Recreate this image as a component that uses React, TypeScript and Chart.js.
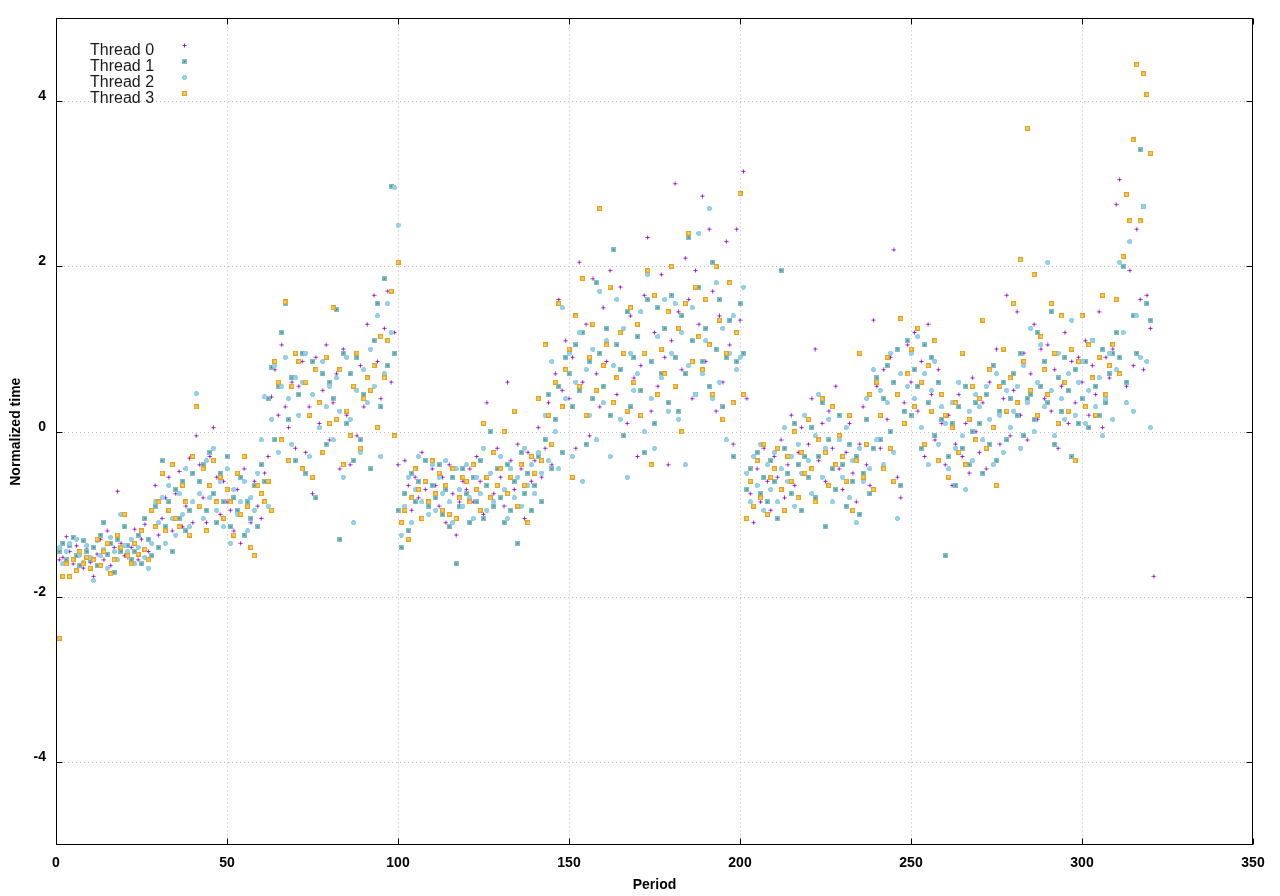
import React, { useEffect, useRef } from "react";
import { Chart, registerables } from "chart.js";
Chart.register(...registerables);

const threadLabels = ["Thread 0", "Thread 1", "Thread 2", "Thread 3"];
const firstPeriod = 1;
const xTicks = [0, 50, 100, 150, 200, 250, 300, 350];
const yTicks = [-4, -2, 0, 2, 4];

const thread0 = [
  -1.55, -1.52, -1.27, -1.45, -1.60, -1.38, -1.50, -1.65, -1.42, -1.58,
  -1.75, -1.48, -1.30, -1.55, -1.20, -1.62, -1.40, -0.72, -1.35, -1.50,
  -1.52, -1.40, -1.18, -1.55, -1.30, -1.12, -1.45, -0.95, -0.65, -1.25,
  -1.05, -0.80, -0.55, -1.20, -0.75, -0.48, -1.15, -0.90, -0.32, -1.10,
  -0.05, -0.40, -0.80, -1.10, -0.30, 0.05, -0.55, -1.00, -0.60, -0.85,
  -0.95, -1.20, -0.70, -1.35, -0.45, -0.85, -1.10, -0.60, -0.90, -1.05,
  -0.50, -0.30, 0.42, 0.75, 0.20, 1.05, 0.30, 0.05, 0.60, -0.20,
  0.55, 0.85, -0.25, 0.30, -0.75, 0.90, 0.10, 0.50, 1.05, -0.10,
  0.35, 0.70, -0.45, 1.00, 0.20, -0.40, 0.55, -0.05, 0.80, 0.30,
  1.30, 0.50, 1.65, 0.85, 0.40, 1.25, 1.70, 0.60, 1.20, -0.40,
  -1.10, -0.35, -0.65, -0.95, -0.55, -0.80, -0.25, -0.70, -1.00, -0.45,
  -0.65, -0.90, -0.55, -1.10, -0.40, -0.75, -1.25, -0.85, -0.60,
  -0.70, -0.45, -0.85, -0.30, -0.60, -1.00, 0.35, -0.50, -0.75, -0.20,
  -0.55, -0.90, 0.60, -0.35, -0.70, -0.15, -0.45, -1.05, -0.25, -0.60,
  -0.35, 0.05, -0.55, -0.20, 0.35, -0.40, 0.70, 1.60, 0.50, 1.10,
  0.40, 0.90, -0.20, 2.05, 0.60, 1.30, -0.05, 1.85, 0.70, 0.30,
  1.50, 0.85, 1.95, 2.20, 0.45, 1.75, 0.95, 0.10, 1.40, 0.65,
  -0.30, 0.80, 1.65, 2.35, 0.25, 1.20, 0.55, 1.90, 0.90, -0.40,
  1.10, 3.00, 1.45, 0.75, 2.10, 1.60, 0.40, 1.95, 1.30, 2.85,
  0.85, 2.45, 1.70, 0.25, 1.40, 0.60, 2.30, 1.05, -0.15, 2.45,
  1.35, 3.15, 0.40, -0.75, -1.10, -0.45, -0.85, -0.20, -0.60, -0.95,
  -0.30, -0.55, -0.10, -0.80, -0.40, 0.20, -0.65, -0.25, 0.05, -0.50,
  -0.15, 0.40, 1.00, -0.35, 0.10, -0.60, 0.25, -0.20, 0.55, -0.45,
  -0.70, -0.25, 0.10, -0.50, -0.85, -0.15, 0.30, -0.40, -0.65, 1.35,
  0.55, -0.20, 0.75, 0.15, 0.90, 2.20, -0.55, -0.80, 0.35, 1.05,
  0.60, 1.20, 0.25, 0.85, -0.30, 1.30, 0.45, -0.10, 0.75, 0.10,
  -0.40, 0.20, -0.65, -0.15, 0.45, -0.30, 0.10, -0.50, 0.65, 0.00,
  -0.25, 0.35, -0.45, 0.60, 0.05, 1.00, -0.15, 0.40, 1.65, -0.05,
  0.50, 1.45, 0.20, 0.95, -0.10, 0.70, 1.30, 0.15, 1.00, 0.40,
  1.05, 0.25, 0.75, -0.20, 0.55, 1.20, 0.10, 0.85, 0.35, 0.90,
  0.60, 1.10, 0.20, 0.80, 0.45, 1.45, 0.05, 0.90, 0.65, 1.00,
  2.75, 3.05, 1.20, 0.55, 1.95, 0.80, 2.45, 1.60, 0.75, 1.65, 1.25, -1.75,
];

const thread1 = [
  -1.45, -1.35, -1.55, -1.38, -1.28, -1.50, -1.62, -1.32, -1.45, -1.55,
  -1.40, -1.62, -1.25, -1.10, -1.48, -1.35, -1.70, -1.30, -1.45, -1.15,
  -1.38, -1.55, -1.45, -1.25, -1.60, -1.05, -1.30, -1.50, -0.90, -1.40,
  -0.35, -1.15, -0.85, -1.45, -0.70, -1.05, -0.60, -1.20, -0.95, -0.50,
  0.30, -0.60, -0.40, -0.95, -0.25, -0.75, -1.10, -0.50, -0.85, -0.30,
  -1.15, -0.80, -0.95, -0.55, -1.25, -0.85, -1.05, -0.65, -1.15, -0.40,
  -0.60, 0.40, 0.78, -0.10, 0.55, 1.20, 1.55, 0.15, 0.65, -0.35,
  0.45, 0.95, -0.50, 0.20, 0.85, -0.80, 0.35, 0.70, -0.15, 0.60,
  0.40, 1.48, -1.30, 0.95, 0.10, 0.70, -0.35, 0.90, -0.10, 0.45,
  0.65, -0.45, 1.10, 1.55, 0.30, 1.85, 0.80, 2.97, 0.95, -0.95,
  -1.40, -0.75, -1.20, -0.50, -0.85, -0.60, -1.05, -0.35, -0.90, -0.65,
  -0.80, -0.40, -1.00, -0.70, -1.15, -0.55, -1.60, -0.90, -0.45,
  -0.75, -1.10, -0.55, -0.85, -0.35, -1.05, -0.65, 0.00, -0.90, -0.45,
  -0.80, -1.10, -0.40, -0.95, -0.60, -1.35, -0.25, -0.75, -0.50, -0.95,
  -0.65, -0.30, -0.85, -0.10, 0.45, -0.45, 0.15, 0.55, -0.25, 0.90,
  0.70, 0.30, 1.05, 0.50, 1.20, -0.15, 0.85, 0.40, 1.80, 0.95,
  0.55, 1.25, 0.20, 2.20, 1.05, 0.75, -0.05, 1.45, 0.30, 0.90,
  1.15, 0.50, -0.25, 1.60, 0.85, 0.10, 1.50, 0.70, 1.25, 0.35,
  1.65, 0.90, 0.25, 1.40, 0.70, 2.35, 1.10, 0.45, 1.75, 0.85,
  1.25, 0.55, 2.05, 1.00, 1.60, 0.30, 0.90, 1.35, -0.30, 0.85,
  1.55, 0.95, -0.70, -0.45, -0.90, -0.25, -0.75, -0.55, -0.85, -0.35,
  -0.60, -1.05, 1.95, -0.20, -0.50, -0.75, 0.10, -0.40, -0.95, -0.30,
  -0.55, 0.05, -0.80, -0.30, 0.35, -1.15, -0.10, -0.45, -0.70, 0.20,
  -0.40, -0.90, -0.15, -0.60, -0.30, -1.00, -0.50, 0.15, -0.75, -0.20,
  0.65, -0.10, 0.40, 0.80, 0.00, 0.60, 1.00, -0.65, 0.25, 1.10,
  0.20, 0.75, 0.55, -0.20, 1.05, 0.35, 0.90, -0.05, 0.60, 0.15,
  -1.50, -0.30, 0.10, -0.65, 0.30, -0.20, 0.55, -0.40, 0.00, 0.35,
  0.10, -0.50, 0.45, -0.15, 0.80, -0.35, 0.25, 0.60, -0.10, 0.40,
  0.70, 0.20, 0.95, -0.05, 0.40, 0.45, 0.15, 1.20, 0.55, 0.85,
  0.35, 1.45, -0.15, 0.65, 0.25, 0.90, 0.50, -0.30, 0.75, 0.10,
  0.40, 0.85, 0.05, 1.10, 0.55, 0.20, 1.00, 0.35, 0.70, 0.95,
  1.20, 0.90, 2.00, 0.60, 2.55, 1.40, 0.95, 3.41, 2.72, 1.55, 1.35,
];

const thread2 = [
  -1.40, -1.60, -1.45, -1.35, -1.55, -1.30, -1.48, -1.58, -1.38, -1.52,
  -1.80, -1.32, -1.50, -1.42, -1.65, -1.28, -1.45, -1.55, -1.00, -1.38,
  -1.45, -1.30, -1.60, -1.40, -1.20, -1.52, -1.65, -1.35, -0.85, -1.10,
  -0.80, -1.35, -0.65, -1.05, -1.25, -0.75, -1.00, -0.45, -1.15, -0.85,
  0.46, -0.75, -1.05, -0.35, -0.80, -0.20, -0.95, -0.60, -1.15, -0.45,
  -1.35, -0.70, -1.00, -0.85, -0.60, -1.20, -0.80, -0.95, -0.50, -0.10,
  0.42, -0.90, 0.15, 0.80, -0.25, 0.55, 0.90, 0.40, -0.15, 0.65,
  0.20, 0.60, 0.95, -0.30, 0.45, 0.75, 0.05, 0.85, 0.30, 0.55,
  -0.10, 0.65, 0.25, -0.55, 0.90, 0.15, -1.10, 0.50, -0.25, 0.75,
  0.35, 1.00, 0.55, 1.40, -0.30, 0.70, 1.55, 1.20, 2.95, 2.50,
  -1.25, -0.90, -0.55, -1.10, -0.70, -0.30, -0.85, -0.60, -1.00, -0.40,
  -0.95, -0.55, -0.75, -0.35, -0.85, -1.10, -0.45, -0.70, -0.90,
  -0.40, -0.80, -1.05, -0.55, -0.75, -0.20, -0.95, -0.50, -0.85, -0.65,
  -0.30, -0.70, -1.05, -0.45, -0.80, -0.55, -0.90, -0.20, -0.65, -0.40,
  -0.75, -0.25, -0.50, 0.20, -0.35, 0.85, 0.00, -0.45, 1.50, 0.40,
  0.95, -0.30, 0.60, 1.20, -0.60, 0.75, 0.20, 1.00, -0.10, 1.70,
  0.35, 1.10, -0.30, 0.80, 1.60, 0.15, 1.25, -0.55, 0.95, 0.50,
  0.70, 1.45, 0.00, 1.90, 0.40, -0.20, 1.15, 0.65, 1.60, 0.25,
  0.95, 1.55, 0.15, 1.20, -0.40, 0.80, 1.50, 0.45, 2.40, 0.70,
  1.10, 2.70, 0.40, 1.80, 0.60, 1.25, -0.10, 0.95, 1.40, 0.75,
  0.90, 1.75, -0.50, -0.85, -0.30, -0.65, -0.15, -0.95, -0.40, -0.70,
  -0.25, -0.85, -0.45, 0.05, -0.60, -0.30, -0.90, -0.15, -0.50, 0.20,
  -0.35, -0.75, -0.05, 0.45, -0.55, -0.20, 0.15, -0.85, -0.40, -0.10,
  -0.55, 0.05, -0.80, -0.35, -1.10, -0.20, -0.60, 0.40, -0.45, 0.75,
  -0.10, 0.50, -0.40, 0.35, 0.95, -0.25, -1.05, 0.70, 0.10, 0.55,
  0.95, 0.40, 1.15, 0.05, 0.70, -0.40, 0.50, 0.85, -0.15, 0.30,
  0.10, -0.45, 0.35, -0.20, 0.60, -0.05, -0.70, 0.25, -0.35, 0.45,
  0.30, -0.10, 0.55, 0.15, -0.40, 0.70, 0.20, -0.25, 0.50, 0.05,
  0.25, 0.55, -0.20, 0.80, 0.35, 1.25, 0.00, 0.60, 1.05, 0.30,
  2.05, 0.50, -0.05, 0.95, 0.40, 0.15, 0.70, 1.35, 0.20, 0.60,
  0.85, 0.10, 0.50, 1.10, 0.30, 0.65, -0.05, 0.40, 0.95, 0.15,
  0.75, 2.05, 1.20, 0.35, 2.30, 0.25, 1.40, 0.90, 2.72, 0.85, 0.05,
];

const thread3 = [
  -2.50, -1.75, -1.60, -1.75, -1.55, -1.68, -1.45, -1.60, -1.52, -1.65,
  -1.55, -1.30, -1.62, -1.45, -1.35, -1.72, -1.55, -1.25, -1.40, -1.00,
  -1.50, -1.60, -1.35, -1.48, -1.20, -1.42, -1.55, -0.95, -1.15, -0.85,
  -0.50, -1.20, -0.95, -0.40, -1.05, -1.15, -0.65, -0.85, -1.25, -0.30,
  0.30, -0.90, -0.45, -1.20, -0.65, -0.35, -0.85, -0.55, -1.05, -0.70,
  -0.85, -1.25, -0.50, -1.00, -0.30, -0.90, -1.40, -1.50, -0.65, -0.75,
  -0.85, -0.60, -0.95, 0.85, 0.60, -0.10, 1.57, -0.35, 0.55, 0.95,
  0.85, -0.45, 0.60, 0.20, -0.55, 0.75, 0.35, -0.25, 0.90, 0.10,
  1.50, 0.15, 0.75, -0.40, 0.25, -0.05, 0.55, 0.95, -0.20, 0.40,
  0.65, 0.50, 0.80, 0.05, 1.15, 0.65, 1.10, 1.70, -0.05, 2.05,
  -1.10, -0.95, -1.30, -0.80, -0.45, -0.70, -1.05, -0.60, -0.85, -0.35,
  -0.75, -0.50, -0.95, -0.65, -1.00, -0.45, -1.05, -0.80, -0.55,
  -0.60, -0.85, -0.40, -0.70, -0.95, 0.10, -0.55, -0.80, -0.25, -0.65,
  -0.45, 0.00, -0.75, -0.55, 0.25, -0.90, -0.40, -0.65, -1.10, -0.30,
  -0.50, 0.40, -0.35, 1.05, 0.20, -0.15, 0.60, 1.55, 0.30, 0.75,
  1.00, -0.55, 1.40, 0.55, 1.85, 0.20, 0.90, 1.30, 0.50, 2.70,
  0.80, 1.05, 1.75, 0.35, 0.65, 1.20, 0.95, 0.25, 1.50, 0.60,
  1.30, 0.20, 0.95, 1.95, -0.40, 1.65, 0.45, 1.00, 0.70, 1.45,
  2.00, 0.55, 1.25, 0.00, 1.55, 2.40, 0.85, 1.75, 1.15, 0.75,
  1.60, 1.05, 0.45, 2.00, 1.35, 0.15, 0.95, 1.80, 0.35, 1.20,
  2.88, 0.45, -1.05, -0.60, -0.90, -0.35, -0.80, -0.15, -1.00, -0.55,
  -0.45, -0.20, -0.70, -0.95, -0.30, -0.60, 0.00, -0.80, -0.25, -0.50,
  0.15, -0.45, -0.85, -0.10, 0.40, -0.25, -0.65, 0.30, -0.40, -0.05,
  -0.30, -0.60, 0.20, -0.95, -0.35, 0.95, -0.55, -0.15, 0.45, -0.70,
  0.60, 0.20, -0.45, 0.90, -0.20, -0.60, 0.45, 1.37, 0.10, 0.70,
  1.00, 0.30, 1.25, 0.60, -0.15, 0.80, 0.25, 1.10, -0.35, 0.45,
  0.20, -0.55, 0.05, 0.35, -0.25, 0.95, -0.40, 0.15, 0.55, -0.10,
  0.40, 1.35, -0.20, 0.75, 0.05, -0.65, 0.55, 1.00, 0.25, 0.65,
  1.55, 0.35, 2.08, 0.85, 3.67, 0.50, 1.90, 0.20, 1.15, 0.75,
  0.45, 1.55, 0.95, 0.10, 1.40, 0.60, 0.25, 1.00, -0.35, 0.85,
  1.40, 0.30, 1.05, 0.65, 0.20, 0.90, 1.65, 0.45, 0.80, 1.05,
  1.60, 0.70, 2.12, 2.87, 2.55, 3.53, 4.44, 2.55, 4.33, 4.08, 3.37,
];

const threads = [thread0, thread1, thread2, thread3];

type Px = string | null;
function makeMarker(grid: Px[][]): HTMLCanvasElement {
  const c = document.createElement("canvas");
  c.width = grid[0].length;
  c.height = grid.length;
  const ctx = c.getContext("2d")!;
  grid.forEach((row, y) =>
    row.forEach((col, x) => {
      if (col) {
        ctx.fillStyle = col;
        ctx.fillRect(x, y, 1, 1);
      }
    })
  );
  return c;
}

function buildMarkers(): HTMLCanvasElement[] {
  const _ = null;
  const pa = "rgba(148,0,211,0.45)";
  const pb = "rgba(148,0,211,0.85)";
  const pc = "#7d00c4";
  const purple = makeMarker([
    [_, _, pa, _, _],
    [_, _, pb, _, _],
    [pa, pb, pc, pb, pa],
    [_, _, pb, _, _],
    [_, _, pa, _, _],
  ]);
  const ta = "#80c0c6";
  const tb = "#6fb2b9";
  const tc = "#2d7a7f";
  const teal = makeMarker([
    [ta, ta, ta, ta, ta],
    [ta, tb, tb, tb, ta],
    [ta, tb, tc, tb, ta],
    [ta, tb, tb, tb, ta],
    [ta, ta, ta, ta, ta],
  ]);
  const ca = "#92cfe6";
  const cb = "#a9daee";
  const cyan = makeMarker([
    [_, ca, ca, ca, _],
    [ca, ca, ca, ca, ca],
    [ca, ca, cb, ca, ca],
    [ca, ca, ca, ca, ca],
    [_, ca, ca, ca, _],
  ]);
  const oa = "#e8a21a";
  const ob = "#f0c259";
  const oc = "#f7dfa6";
  const orange = makeMarker([
    [oa, oa, oa, oa, oa],
    [oa, ob, ob, ob, oa],
    [oa, ob, oc, ob, oa],
    [oa, ob, ob, ob, oa],
    [oa, oa, oa, oa, oa],
  ]);
  return [purple, teal, cyan, orange];
}

export default function App() {
  const canvasRef = useRef<HTMLCanvasElement | null>(null);

  useEffect(() => {
    const canvas = canvasRef.current;
    if (!canvas) return;
    const markers = buildMarkers();
    const FONT = '"Liberation Sans", Arial, sans-serif';

    const framePlugin = {
      id: "gnuframe",
      beforeDatasetsDraw(chart: any) {
        const { ctx, chartArea } = chart;
        const xs = chart.scales.x;
        const ys = chart.scales.y;
        ctx.save();
        ctx.strokeStyle = "#bdbdbd";
        ctx.lineWidth = 1;
        ctx.setLineDash([1, 3]);
        xTicks.forEach((v) => {
          const px = Math.round(xs.getPixelForValue(v)) + 0.5;
          if (px <= chartArea.left + 1 || px >= chartArea.right - 1) return;
          ctx.beginPath();
          ctx.moveTo(px, chartArea.top);
          ctx.lineTo(px, chartArea.bottom);
          ctx.stroke();
        });
        yTicks.forEach((v) => {
          const py = Math.round(ys.getPixelForValue(v)) + 0.5;
          ctx.beginPath();
          ctx.moveTo(chartArea.left, py);
          ctx.lineTo(chartArea.right, py);
          ctx.stroke();
        });
        ctx.restore();
      },
      afterDatasetsDraw(chart: any) {
        const { ctx, chartArea } = chart;
        const xs = chart.scales.x;
        const ys = chart.scales.y;
        const l = Math.round(chartArea.left) + 0.5;
        const r = Math.round(chartArea.right) - 0.5;
        const t = Math.round(chartArea.top) + 0.5;
        const b = Math.round(chartArea.bottom) - 0.5;
        const tl = 6;
        ctx.save();
        ctx.strokeStyle = "#000";
        ctx.lineWidth = 1;
        ctx.setLineDash([]);
        ctx.strokeRect(l, t, r - l, b - t);
        ctx.beginPath();
        xTicks.forEach((v) => {
          const px = Math.round(xs.getPixelForValue(v)) + 0.5;
          ctx.moveTo(px, b);
          ctx.lineTo(px, b - tl);
          ctx.moveTo(px, t);
          ctx.lineTo(px, t + tl);
        });
        yTicks.forEach((v) => {
          const py = Math.round(ys.getPixelForValue(v)) + 0.5;
          ctx.moveTo(l, py);
          ctx.lineTo(l + tl, py);
          ctx.moveTo(r, py);
          ctx.lineTo(r - tl, py);
        });
        ctx.stroke();

        // legend
        ctx.font = `16px ${FONT}`;
        ctx.fillStyle = "#1a1a1a";
        ctx.textAlign = "left";
        ctx.textBaseline = "alphabetic";
        threadLabels.forEach((label, i) => {
          const base = 55 + i * 15.9;
          ctx.fillText(label, 90, base);
          ctx.drawImage(markers[i], 182, Math.round(base - 11.8));
        });
        ctx.restore();
      },
    };

    const datasets = threads.map((vals, i) => ({
      label: threadLabels[i],
      data: vals.map((v, k) => ({ x: firstPeriod + k, y: v })),
      pointStyle: markers[i] as any,
      pointRadius: 3,
      pointHoverRadius: 3,
      showLine: false,
      order: 3 - i,
    }));

    const chart = new Chart(canvas, {
      type: "scatter",
      data: { datasets },
      plugins: [framePlugin],
      options: {
        responsive: false,
        animation: false,
        devicePixelRatio: 1,
        events: [],
        layout: { padding: { left: 0, top: 15, right: 27, bottom: 0 } },
        plugins: {
          legend: { display: false },
          tooltip: { enabled: false },
        },
        scales: {
          x: {
            type: "linear",
            min: 0,
            max: 350,
            afterFit: (s: any) => {
              s.height = 51;
            },
            afterBuildTicks: (s: any) => {
              s.ticks = xTicks.map((v) => ({ value: v }));
            },
            grid: { display: false, drawTicks: false },
            border: { display: false },
            ticks: {
              padding: 10,
              color: "#000",
              font: { family: FONT, size: 14, weight: "bold" },
              maxRotation: 0,
              autoSkip: false,
            },
            title: {
              display: true,
              text: "Period",
              color: "#000",
              font: { family: FONT, size: 14, weight: "bold" },
              padding: { top: 0, bottom: 2 },
            },
          },
          y: {
            type: "linear",
            min: -5,
            max: 5,
            afterFit: (s: any) => {
              s.width = 56;
            },
            afterBuildTicks: (s: any) => {
              s.ticks = yTicks.map((v) => ({ value: v }));
            },
            grid: { display: false, drawTicks: false },
            border: { display: false },
            ticks: {
              padding: 10,
              labelOffset: -5,
              color: "#000",
              font: { family: FONT, size: 14, weight: "bold" },
              autoSkip: false,
            },
            title: {
              display: true,
              text: "Normalized time",
              color: "#000",
              font: { family: FONT, size: 14, weight: "bold" },
              padding: { top: 8, bottom: 0 },
            },
          },
        },
      },
    });
    return () => chart.destroy();
  }, []);

  return (
    <div
      style={{
        position: "fixed",
        left: 0,
        top: 0,
        width: 1280,
        height: 896,
        background: "#fff",
      }}
    >
      <canvas ref={canvasRef} width={1280} height={896} />
    </div>
  );
}
